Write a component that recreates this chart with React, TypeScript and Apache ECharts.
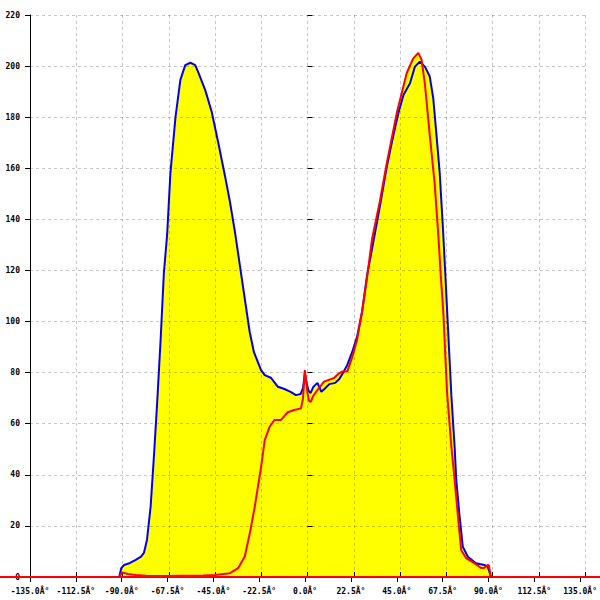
import React, { useEffect, useRef } from "react";
import * as echarts from "echarts";

// Angles in degrees
const blueAngles = [
  -91.2, -90.2, -88.8, -85.9, -83.1, -80.5, -79.1, -77.6, -75.8, -74.2, -72.7, -70.9, -69.3, -67.7,
  -66.1, -63.6, -61.2, -58.8, -56.3, -53.9, -52.3, -49.0, -45.8, -42.6, -39.3, -36.9, -34.4, -32.0,
  -29.6, -27.2, -25.1, -21.6, -19.8, -16.8, -15.3, -13.4, -10.1, -7.1, -4.5, -2.2, -1.0, -0.1, 0.7,
  1.7, 2.7, 4.1, 6.1, 8.0, 10.0, 11.9, 14.8, 16.8, 18.7, 20.7, 23.1, 25.5, 28.0, 30.4, 33.7, 36.7,
  40.1, 43.1, 45.8, 48.3, 51.5, 53.9, 56.3, 58.8, 61.2, 62.9, 64.5, 66.1, 67.7, 68.8, 69.8, 70.8,
  71.8, 73.4, 74.2, 75.8, 77.4, 79.9, 83.9, 88.0, 89.6, 90.5, 91.2,
];
const blueValues = [
  0, 3.5, 4.7, 5.5, 6.7, 8, 9.4, 14.5, 27.5, 47, 66.7, 92.8, 119, 134,
  158, 180, 194.6, 200.4, 201.3, 200.4, 197.3, 190.6, 182, 170, 157, 147, 135, 122,
  109, 96, 88, 81, 79, 78, 76.5, 74.5, 73.6, 72.5, 71.2, 71.6, 74, 80, 76,
  73, 72, 74.5, 76, 72.5, 74, 75.5, 76, 77.5, 80, 83, 88, 94, 104, 118, 132, 145,
  160.6, 172, 181.6, 188.7, 193.3, 199.8, 201.7, 199.8, 195.9, 187.5, 173, 158, 136, 119, 103, 87,
  71, 51, 38, 24, 11.9, 7.9, 5.4, 4.7, 4, 2, 0,
];

const redAngles = [
  -91.2, -89.8, -87, -83, -78, -70, -60, -50, -44.2, -36.9, -32.8, -29.6, -27.1, -24.7,
  -21.6, -19.8, -17.4, -15.0, -11.8, -8.5, -5.3, -2.0, -1.0, -0.1, 1.2, 1.9, 2.8, 4.1, 6.1, 9.3,
  14.2, 16.3, 18.2, 20.7, 23.1, 25.5, 28.0, 30.4, 32.8, 36.7, 40.1, 45.0, 49.9, 53.1, 55.6, 57.2,
  58.8, 61.2, 63.6, 65.3, 66.6, 67.9, 68.8, 69.7, 71.8, 73.4, 75.0, 76.6, 79.0, 83.1, 86.4, 87.8,
  89.6, 90.2, 91.2,
];
const redValues = [
  0, 1.8, 1.2, 0.8, 0.5, 0.4, 0.5, 0.6, 0.8, 1.5, 3.5, 8, 17.2, 27.5,
  43, 53.6, 58.8, 61.5, 61.5, 64.5, 65.4, 66, 70, 81, 72, 69, 68.6, 71, 73.2, 76.5,
  77.9, 79.5, 80.4, 80.4, 86, 92.8, 104, 117, 132, 147, 162, 181.6, 197.3, 203, 205.2, 202.4,
  193, 173, 154, 135, 118, 103, 87, 72, 51, 38, 24, 10.6, 7.4, 5.4, 3.5, 3.5,
  4.7, 4.5, 0,
];

// Baseline value of the red trace, drawn across the whole picture width
const redBaseline = 0;

const X_MIN = -135;
const X_MAX = 135;
const X_STEP = 22.5;
const Y_MIN = 0;
const Y_MAX = 220;
const Y_STEP = 20;
const DEG_SUFFIX = "Â°";

const pairs = (xs: number[], ys: number[]) => xs.map((x, i) => [x, ys[i]]);

export default function App() {
  const ref = useRef<HTMLDivElement>(null);
  useEffect(() => {
    if (!ref.current) return;
    const chart = echarts.init(ref.current, undefined, { renderer: "svg" });
    const gridRect = { left: 30, right: 15, top: 15, bottom: 23, containLabel: false };
    const labelFont = {
      fontFamily: "DejaVu Sans Mono",
      fontSize: 8,
      fontWeight: "bold" as const,
      color: "#000",
    };
    const split = { show: true, lineStyle: { color: "rgba(0,0,0,0.22)", type: [3, 3], width: 1 } };
    const blue = pairs(blueAngles, blueValues);
    const red = pairs(redAngles, redValues);
    chart.setOption({
      animation: false,
      backgroundColor: "#fff",
      grid: [gridRect, gridRect],
      xAxis: [
        {
          type: "value",
          gridIndex: 0,
          min: X_MIN,
          max: X_MAX,
          interval: X_STEP,
          z: 0,
          axisLine: { show: true, onZero: false, lineStyle: { color: "#000", width: 1 } },
          axisTick: { show: true, length: 5, lineStyle: { color: "#000" } },
          axisLabel: {
            ...labelFont,
            margin: 10,
            showMinLabel: true,
            showMaxLabel: true,
            hideOverlap: false,
            formatter: (v: number) => v.toFixed(1) + DEG_SUFFIX,
          },
          splitLine: { show: false },
        },
        {
          type: "value",
          gridIndex: 1,
          min: X_MIN,
          max: X_MAX,
          interval: X_STEP,
          z: 3,
          axisLine: { show: false },
          axisTick: { show: true, inside: true, length: 5, lineStyle: { color: "#000" } },
          axisLabel: { show: false },
          splitLine: split,
        },
      ],
      yAxis: [
        {
          type: "value",
          gridIndex: 0,
          min: Y_MIN,
          max: Y_MAX,
          interval: Y_STEP,
          z: 0,
          axisLine: { show: true, onZero: false, lineStyle: { color: "#000", width: 1 } },
          axisTick: { show: true, length: 5, lineStyle: { color: "#000" } },
          axisLabel: { ...labelFont, margin: 10 },
          splitLine: { show: false },
        },
        {
          type: "value",
          gridIndex: 1,
          min: Y_MIN,
          max: Y_MAX,
          interval: Y_STEP,
          z: 3,
          axisLine: { show: false },
          axisTick: { show: true, inside: true, length: 5, lineStyle: { color: "#000" } },
          axisLabel: { show: false },
          splitLine: split,
        },
      ],
      series: [
        {
          type: "line",
          xAxisIndex: 0,
          yAxisIndex: 0,
          data: blue,
          showSymbol: false,
          z: 1,
          lineStyle: { width: 0 },
          areaStyle: { color: "#ffff00", opacity: 1 },
        },
        {
          type: "line",
          xAxisIndex: 0,
          yAxisIndex: 0,
          data: red,
          showSymbol: false,
          z: 1,
          lineStyle: { width: 0 },
          areaStyle: { color: "#ffff00", opacity: 1 },
        },
        {
          type: "line",
          xAxisIndex: 0,
          yAxisIndex: 0,
          data: blue,
          showSymbol: false,
          z: 4,
          lineStyle: { color: "#0000ee", width: 2 },
        },
        {
          type: "line",
          xAxisIndex: 0,
          yAxisIndex: 0,
          data: red,
          showSymbol: false,
          z: 5,
          lineStyle: { color: "#ff0000", width: 2 },
        },
      ],
    });
    const y0 = chart.convertToPixel({ yAxisIndex: 0 }, redBaseline) as number;
    chart.setOption({
      graphic: [
        {
          type: "line",
          z: 4,
          shape: { x1: 0, y1: y0, x2: chart.getWidth(), y2: y0 },
          style: { stroke: "#ff0000", lineWidth: 2 },
        },
      ],
    });
    return () => chart.dispose();
  }, []);
  return (
    <div
      ref={ref}
      style={{ position: "absolute", left: 0, top: 0, width: 600, height: 600 }}
    />
  );
}
